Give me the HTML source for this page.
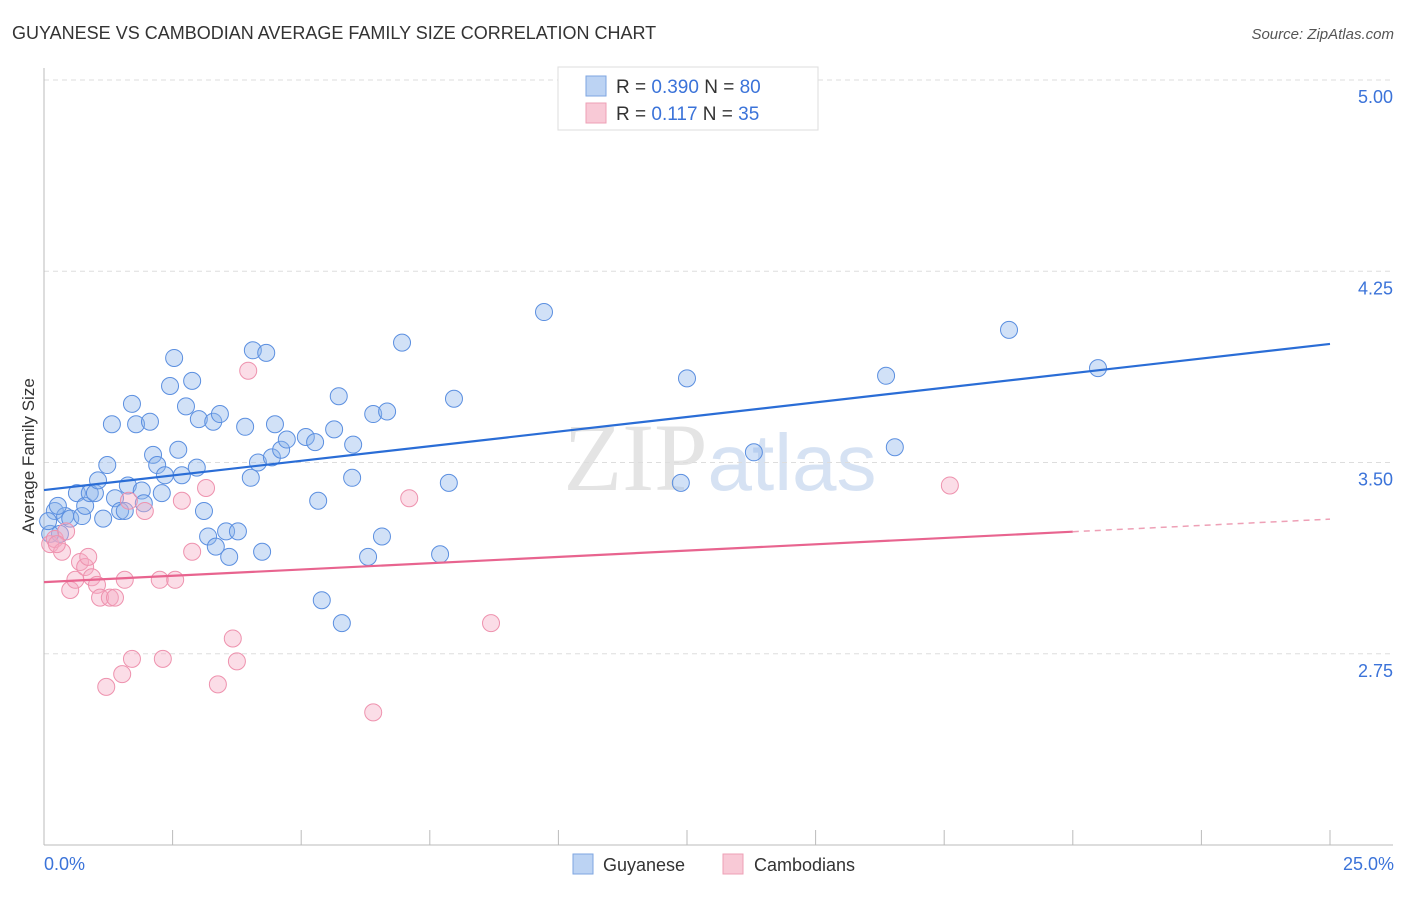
<!DOCTYPE html>
<html><head><meta charset="utf-8"><style>
body{margin:0;background:#fff;font-family:"Liberation Sans",sans-serif;}
</style></head><body>
<svg id="chart" width="1406" height="892" xmlns="http://www.w3.org/2000/svg" font-family="Liberation Sans, sans-serif">
<text x="12" y="39" font-size="18" fill="#333">GUYANESE VS CAMBODIAN AVERAGE FAMILY SIZE CORRELATION CHART</text>
<text x="1394" y="39" font-size="15" fill="#555" text-anchor="end" font-style="italic">Source: ZipAtlas.com</text>
<text x="720" y="490" font-size="96" fill="#e4e4e4" text-anchor="middle" font-family="Liberation Serif, serif">ZIP<tspan fill="#d6e2f3" font-family="Liberation Sans, sans-serif" font-size="80">atlas</tspan></text>
<g id="grid"></g><g id="axes"></g><g id="pts"></g><g id="lines"></g>
<text transform="translate(34,456) rotate(-90)" font-size="17" fill="#333" text-anchor="middle">Average Family Size</text>
<text x="44" y="870" font-size="18" fill="#3b73d9">0.0%</text>
<text x="1394" y="870" font-size="18" fill="#3b73d9" text-anchor="end">25.0%</text>
<g>
<rect x="558" y="67" width="260" height="63" fill="#fff" stroke="#ddd"/>
<rect x="586" y="76" width="20" height="20" fill="#bcd3f3" stroke="#7ea6e0"/>
<rect x="586" y="103" width="20" height="20" fill="#f8c9d6" stroke="#eea0b6"/>
<text x="616" y="93" font-size="19" fill="#333">R = <tspan fill="#3b73d9">0.390</tspan>   N = <tspan fill="#3b73d9">80</tspan></text>
<text x="616" y="120" font-size="19" fill="#333">R =  <tspan fill="#3b73d9"> 0.117</tspan>   N = <tspan fill="#3b73d9"> 35</tspan></text>
</g>
<g>
<rect x="573" y="854" width="20" height="20" fill="#bcd3f3" stroke="#7ea6e0"/>
<text x="603" y="871" font-size="18" fill="#333">Guyanese</text>
<rect x="723" y="854" width="20" height="20" fill="#f8c9d6" stroke="#eea0b6"/>
<text x="754" y="871" font-size="18" fill="#333">Cambodians</text>
</g>
</svg>
<script>
const yTicks=[5.00,4.25,3.50,2.75];
const xTicks=[0,2.5,5,7.5,10,12.5,15,17.5,20,22.5,25];
const blueX=[0.21,0.31,0.41,0.51,0.64,0.74,0.80,0.89,0.99,1.05,1.15,1.23,1.32,1.38,1.48,1.57,1.63,1.71,1.79,1.90,1.94,2.06,2.12,2.20,2.29,2.35,2.45,2.53,2.61,2.68,2.76,2.88,2.97,3.01,3.11,3.19,3.29,3.34,3.42,3.54,3.60,3.77,3.91,4.02,4.06,4.16,4.24,4.32,4.43,4.49,4.61,4.72,5.09,5.27,5.33,5.40,5.64,5.73,5.79,5.99,6.01,6.30,6.40,6.57,6.67,6.96,7.70,7.87,7.97,9.72,12.38,12.50,13.80,16.37,16.54,18.76,20.49,0.12,0.08,0.27];
const blueY=[3.31,3.22,3.29,3.28,3.38,3.29,3.33,3.38,3.38,3.43,3.28,3.49,3.65,3.36,3.31,3.31,3.41,3.73,3.65,3.39,3.34,3.66,3.53,3.49,3.38,3.45,3.80,3.91,3.55,3.45,3.72,3.82,3.48,3.67,3.31,3.21,3.66,3.17,3.69,3.23,3.13,3.23,3.64,3.44,3.94,3.50,3.15,3.93,3.52,3.65,3.55,3.59,3.60,3.58,3.35,2.96,3.63,3.76,2.87,3.44,3.57,3.13,3.69,3.21,3.70,3.97,3.14,3.42,3.75,4.09,3.42,3.83,3.54,3.84,3.56,4.02,3.87,3.22,3.27,3.33];
const pinkX=[0.12,0.21,0.35,0.43,0.51,0.61,0.70,0.80,0.86,0.93,1.03,1.09,1.21,1.28,1.38,1.52,1.57,1.65,1.71,1.96,2.25,2.31,2.55,2.68,2.88,3.15,3.38,3.67,3.75,3.97,6.40,7.10,8.69,17.61,0.25];
const pinkY=[3.18,3.20,3.15,3.23,3.00,3.04,3.11,3.09,3.13,3.05,3.02,2.97,2.62,2.97,2.97,2.67,3.04,3.35,2.73,3.31,3.04,2.73,3.04,3.35,3.15,3.40,2.63,2.81,2.72,3.86,2.52,3.36,2.87,3.41,3.18];
const blueTrend=[3.392,3.965];
const pinkTrend=[3.031,3.278];
const NS='http://www.w3.org/2000/svg';
const X=v=>44+v/25*1286, Y=v=>80+(5-v)*255;
function mk(t,a,p){const e=document.createElementNS(NS,t);for(const k in a)e.setAttribute(k,a[k]);document.getElementById(p).appendChild(e);return e;}
yTicks.forEach(t=>{
 const l=mk('line',{x1:44,x2:1393,y1:Y(t),y2:Y(t),stroke:'#ddd','stroke-dasharray':'5,4'},'grid');
 
 
 const tx=mk('text',{x:1393,y:Y(t)+23,'font-size':18,fill:'#3b73d9','text-anchor':'end'},'grid');
 tx.textContent=t.toFixed(2);
 
 
});
const ax=mk('line',{x1:44,x2:44,y1:68,y2:845,stroke:'#bbb'},'axes');


const bx=mk('line',{x1:44,x2:1393,y1:845,y2:845,stroke:'#bbb'},'axes');


xTicks.forEach(t=>{
 const l=mk('line',{x1:X(t),x2:X(t),y1:830,y2:845,stroke:'#bbb'},'axes');
 
 
});
blueX.forEach((v,i)=>{
 const c=mk('circle',{cx:X(v),cy:Y(blueY[i]),r:8.5,fill:'rgba(140,180,235,0.4)',stroke:'#5b8fe0','stroke-width':1},'pts');
 
 
});
pinkX.forEach((v,i)=>{
 const c=mk('circle',{cx:X(v),cy:Y(pinkY[i]),r:8.5,fill:'rgba(245,170,195,0.4)',stroke:'#ee92ae','stroke-width':1},'pts');
 
 
});
const bl=mk('line',{x1:X(0),y1:Y(blueTrend[0]),x2:X(25),y2:Y(blueTrend[1]),stroke:'#2a6dd6','stroke-width':2.2},'lines');


const pAt=x=>pinkTrend[0]+(pinkTrend[1]-pinkTrend[0])*x/25;
const pl=mk('line',{x1:X(0),y1:Y(pAt(0)),x2:X(20),y2:Y(pAt(20)),stroke:'#e8648f','stroke-width':2.2},'lines');


const pd=mk('line',{x1:X(20),y1:Y(pAt(20)),x2:X(25),y2:Y(pAt(25)),stroke:'#eea0b6','stroke-width':1.5,'stroke-dasharray':'6,5'},'lines');


</script>
</body></html>
